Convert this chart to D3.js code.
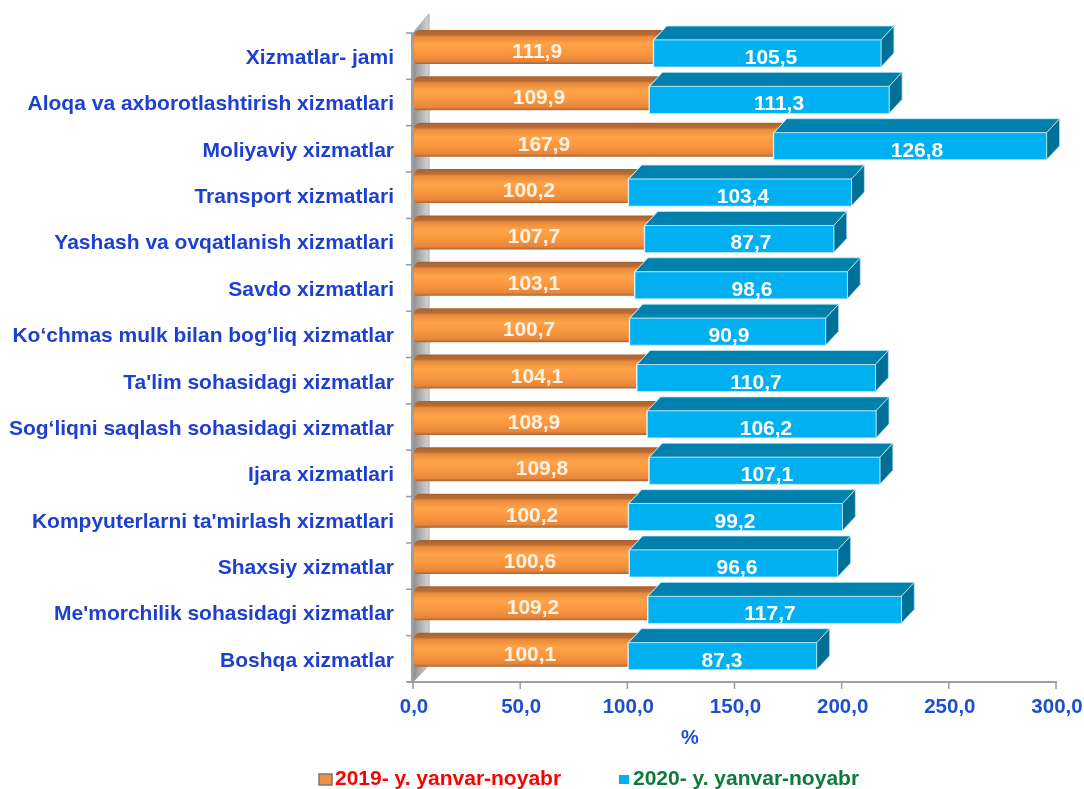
<!DOCTYPE html>
<html><head><meta charset="utf-8">
<script src="https://cdn.jsdelivr.net/npm/d3@7"></script>
<style>html,body{margin:0;padding:0;background:#fff}svg{display:block}text{font-family:"Liberation Sans",Arial,sans-serif;font-weight:bold}</style>
</head><body><svg id="c" width="1084" height="789"></svg>
<script>
const categories=["Xizmatlar- jami","Aloqa va axborotlashtirish xizmatlari","Moliyaviy xizmatlar","Transport xizmatlari","Yashash va ovqatlanish xizmatlari","Savdo xizmatlari","Ko‘chmas mulk bilan bog‘liq xizmatlar","Ta'lim sohasidagi xizmatlar","Sog‘liqni saqlash sohasidagi xizmatlar","Ijara xizmatlari","Kompyuterlarni ta'mirlash xizmatlari","Shaxsiy xizmatlar","Me'morchilik sohasidagi xizmatlar","Boshqa xizmatlar"];
const values2019=[111.9,109.9,167.9,100.2,107.7,103.1,100.7,104.1,108.9,109.8,100.2,100.6,109.2,100.1];
const values2020=[105.5,111.3,126.8,103.4,87.7,98.6,90.9,110.7,106.2,107.1,99.2,96.6,117.7,87.3];
const xTicks=[0,50,100,150,200,250,300];
const seriesNames=["2019- y. yanvar-noyabr","2020- y. yanvar-noyabr"];
// hand-placed data-label centres as they sit in the reference
const label2019X=[537,539,544,529,534,534,529,537,534,542,532,530,533,530];
const label2020X=[771,779,917,743,751,752,729,756,766,767,735,737,770,722];
const fmt=v=>v.toFixed(1).replace(".",",");
const svg=d3.select("#c");
const defs=svg.append("defs");
const g1=defs.append("linearGradient").attr("id","org").attr("x1",0).attr("x2",0).attr("y1",0).attr("y2",1);
[[0,"#a8622e"],[.14,"#b96d33"],[.2,"#e88a3c"],[.42,"#ffa348"],[.7,"#f8963f"],[.92,"#e5853a"],[1,"#a8622e"]].forEach(s=>g1.append("stop").attr("offset",s[0]).attr("stop-color",s[1]));
const g2=defs.append("linearGradient").attr("id","wall").attr("x1",0).attr("x2",1).attr("y1",0).attr("y2",0);
g2.append("stop").attr("offset",0).attr("stop-color","#8d8d8d");g2.append("stop").attr("offset",1).attr("stop-color","#d6d6d6");
defs.append("filter").attr("id","soft").append("feGaussianBlur").attr("stdDeviation",0.5);

const x=d3.scaleLinear().domain([0,300]).range([413,1056]);
const y=d3.scaleBand().domain(categories).range([33,682]).paddingInner(0.4176).paddingOuter(0.208).align(0.363);
const dx=13,dy=14;
const root=svg.append("g").attr("filter","url(#soft)");
const y0=33,y1=682,x0=x(0);
root.append("path").attr("d",`M${x0},${y0}L${x0+16},${y0-19}V${y1-17}L${x0},${y1}Z`).attr("fill","url(#wall)").attr("stroke","#a8a8a8");
root.append("path").attr("d",`M${x0-6},${y1}H${x(300)+1}`).attr("stroke","#a0a0a0").attr("stroke-width",2).attr("fill","none");
root.append("path").attr("d",`M${x0-1},${y0}V${y1}`).attr("stroke","#a0a0a0").attr("stroke-width",2).attr("fill","none");
const yStep=(y1-y0)/categories.length;
root.append("g").selectAll("line").data(d3.range(categories.length+1)).join("line")
 .attr("x1",x0-7).attr("x2",x0).attr("y1",d=>y0+d*yStep).attr("y2",d=>y0+d*yStep).attr("stroke","#9a9a9a").attr("stroke-width",1.5);
root.append("g").selectAll("line").data(xTicks).join("line")
 .attr("x1",d=>x(d)).attr("x2",d=>x(d)).attr("y1",y1).attr("y2",y1+7).attr("stroke","#9a9a9a").attr("stroke-width",1.5);
root.append("g").selectAll("text").data(xTicks).join("text")
 .attr("x",d=>x(d)+1).attr("y",713).attr("text-anchor","middle").attr("font-size",20.5).attr("fill","#1f4fd0").text(fmt);
root.append("text").attr("x",690).attr("y",744).attr("text-anchor","middle").attr("font-size",20).attr("fill","#1f4fd0").text("%");
root.append("g").selectAll("text").data(categories).join("text")
 .attr("x",394).attr("y",d=>y(d)+y.bandwidth()/2+10.5).attr("text-anchor","end").attr("font-size",21).attr("fill","#1f3fd0").text(d=>d);
const h=y.bandwidth();
const rows=root.append("g").selectAll("g").data(categories.map((c,i)=>({c,a:values2019[i],b:values2020[i],i}))).join("g");
// rounded orange body, its top band running back under the blue bar
rows.append("path").attr("d",d=>{const l=x(0)+1,r=x(d.a),t=y(d.c),b=t+h-3,tt=t-10;
  return `M${l+6},${tt}H${r+10}L${r},${t}V${b}H${l+3}Q${l},${b} ${l},${b-4}V${tt+8}Q${l},${tt} ${l+6},${tt}Z`}).attr("fill","url(#org)");
const bl=d=>x(d.a)+1, br=d=>x(d.a+d.b)+2;
rows.append("path").attr("d",d=>{const l=bl(d),r=br(d),t=y(d.c);return `M${l},${t}L${l+dx},${t-dy}H${r+dx}L${r},${t}Z`}).attr("fill","#0080ad").attr("stroke","#bfe6f5").attr("stroke-width",0.8);
rows.append("path").attr("d",d=>{const r=br(d),t=y(d.c);return `M${r},${t}L${r+dx},${t-dy}V${t+h-dy}L${r},${t+h}Z`}).attr("fill","#006f96").attr("stroke","#bfe6f5").attr("stroke-width",0.8);
rows.append("rect").attr("x",bl).attr("y",d=>y(d.c)).attr("width",d=>br(d)-bl(d)).attr("height",h).attr("fill","#00b0f0").attr("stroke","#bfe6f5").attr("stroke-width",0.8);
rows.append("text").attr("x",d=>label2019X[d.i]).attr("y",d=>y(d.c)+18).attr("text-anchor","middle").attr("font-size",21).attr("fill","#fff2e0").text(d=>fmt(d.a));
rows.append("text").attr("x",d=>label2020X[d.i]).attr("y",d=>y(d.c)+24).attr("text-anchor","middle").attr("font-size",21).attr("fill","#fff").text(d=>fmt(d.b));
// legend
root.append("rect").attr("x",319).attr("y",774).attr("width",13).attr("height",11).attr("fill","#f0903f").attr("stroke","#777").attr("stroke-width",1.5);
root.append("text").attr("x",335).attr("y",785).attr("font-size",21).attr("fill","#ff0000").text(seriesNames[0]);
root.append("rect").attr("x",619).attr("y",775).attr("width",10).attr("height",9).attr("fill","#00b0f0");
root.append("text").attr("x",633).attr("y",785).attr("font-size",21).attr("fill","#0b7a3a").text(seriesNames[1]);
</script></body></html>
